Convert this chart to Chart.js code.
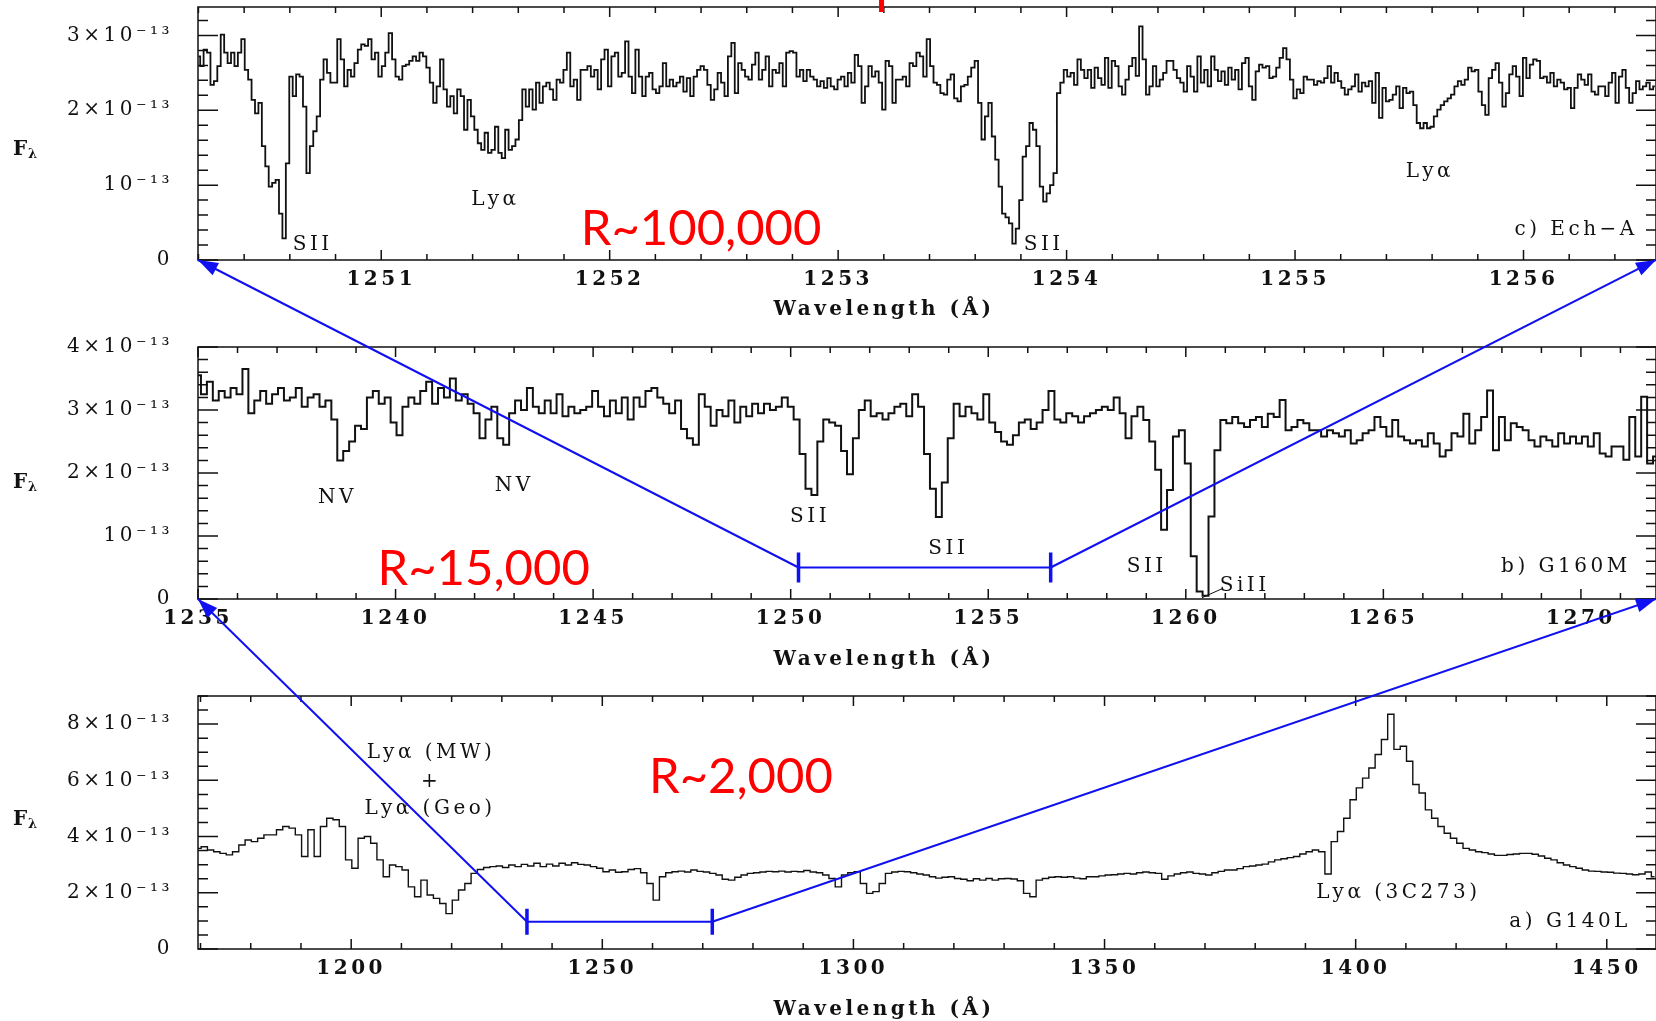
<!DOCTYPE html>
<html>
<head>
<meta charset="utf-8">
<title>STIS spectra of 3C273 at three resolutions</title>
<script src="https://cdn.jsdelivr.net/npm/chart.js@4.4.1/dist/chart.umd.min.js"></script>
<style>
  html, body { margin: 0; background: #fff; }
  #wrap { position: relative; width: 1656px; height: 1021px; overflow: hidden; }
  #wrap canvas { position: absolute; left: 0; }
  #overlay { pointer-events: none; }
</style>
</head>
<body>
<div id="wrap">
  <canvas id="panelC" width="1656" height="330" style="top:0"></canvas>
  <canvas id="panelB" width="1656" height="340" style="top:330px"></canvas>
  <canvas id="panelA" width="1656" height="351" style="top:670px"></canvas>
  <canvas id="overlay" width="1656" height="1021" style="top:0"></canvas>
</div>
<script>
// ---- data (flux in units of 1e-13, wavelength in Angstrom) ----
const ECH_RANGE = [1250.198, 1256.58];
const ECH_START = 1250.20, ECH_STEP = 0.015;
const ECH_FLUX = [
  2.72, 2.59, 2.81, 2.77, 2.34, 2.39, 2.59, 3.01, 2.77, 2.63,
  2.77, 2.59, 2.77, 2.95, 2.54, 2.41, 2.14, 1.96, 2.10, 1.52,
  1.25, 0.98, 1.03, 1.07, 0.62, 0.29, 1.29, 2.45, 2.19, 2.48,
  2.45, 2.05, 1.16, 1.52, 1.72, 1.92, 2.41, 2.68, 2.50, 2.37,
  2.37, 2.95, 2.68, 2.32, 2.54, 2.45, 2.63, 2.81, 2.88, 2.86,
  2.95, 2.68, 2.77, 2.45, 2.59, 2.77, 3.03, 2.68, 2.45, 2.41,
  2.59, 2.61, 2.66, 2.72, 2.66, 2.77, 2.72, 2.57, 2.37, 2.10,
  2.32, 2.68, 2.28, 2.05, 2.19, 1.96, 2.28, 2.19, 1.74, 2.14,
  1.92, 1.74, 1.56, 1.47, 1.70, 1.43, 1.47, 1.78, 1.43, 1.36,
  1.74, 1.47, 1.52, 1.61, 1.87, 2.28, 2.05, 2.28, 2.01, 2.37,
  2.10, 2.32, 2.37, 2.28, 2.14, 2.41, 2.37, 2.54, 2.77, 2.32,
  2.41, 2.14, 2.54, 2.54, 2.59, 2.45, 2.54, 2.28, 2.68, 2.81,
  2.32, 2.72, 2.77, 2.45, 2.50, 2.92, 2.45, 2.23, 2.81, 2.45,
  2.19, 2.45, 2.50, 2.28, 2.23, 2.32, 2.63, 2.32, 2.41, 2.32,
  2.37, 2.45, 2.25, 2.43, 2.19, 2.45, 2.54, 2.59, 2.54, 2.34,
  2.14, 2.28, 2.50, 2.37, 2.19, 2.72, 2.90, 2.23, 2.63, 2.54,
  2.45, 2.41, 2.61, 2.77, 2.41, 2.54, 2.72, 2.32, 2.54, 2.50,
  2.63, 2.32, 2.77, 2.79, 2.77, 2.45, 2.54, 2.39, 2.54, 2.45,
  2.41, 2.32, 2.39, 2.30, 2.43, 2.32, 2.28, 2.41, 2.45, 2.32,
  2.50, 2.37, 2.74, 2.59, 2.10, 2.32, 2.59, 2.45, 2.52, 2.37,
  2.01, 2.66, 2.59, 2.10, 2.41, 2.41, 2.45, 2.32, 2.63, 2.59,
  2.77, 2.72, 2.45, 2.95, 2.59, 2.37, 2.34, 2.23, 2.21, 2.41,
  2.48, 2.16, 2.12, 2.32, 2.34, 2.45, 2.57, 2.66, 2.10, 1.61,
  1.92, 2.10, 1.65, 1.34, 0.98, 0.62, 0.57, 0.49, 0.22, 0.42,
  0.80, 1.38, 1.52, 1.83, 1.74, 1.52, 0.98, 0.78, 0.89, 1.00,
  1.16, 2.23, 2.37, 2.54, 2.45, 2.50, 2.34, 2.68, 2.54, 2.43,
  2.54, 2.30, 2.57, 2.43, 2.34, 2.70, 2.30, 2.66, 2.59, 2.32,
  2.21, 2.41, 2.59, 2.70, 2.46, 3.12, 2.68, 2.21, 2.32, 2.59,
  2.32, 2.41, 2.50, 2.66, 2.66, 2.54, 2.43, 2.37, 2.25, 2.59,
  2.45, 2.25, 2.72, 2.37, 2.54, 2.32, 2.72, 2.54, 2.39, 2.52,
  2.34, 2.57, 2.41, 2.54, 2.28, 2.63, 2.70, 2.32, 2.14, 2.52,
  2.61, 2.57, 2.59, 2.43, 2.45, 2.57, 2.70, 2.83, 2.68, 2.41,
  2.16, 2.28, 2.23, 2.45, 2.41, 2.41, 2.34, 2.39, 2.37, 2.43,
  2.59, 2.37, 2.50, 2.39, 2.30, 2.21, 2.28, 2.32, 2.48, 2.25,
  2.37, 2.32, 2.39, 2.10, 2.50, 1.90, 2.30, 2.12, 2.14, 2.21,
  2.32, 2.03, 2.30, 2.23, 2.25, 2.07, 1.83, 1.76, 1.83, 1.76,
  1.78, 1.92, 2.01, 2.07, 2.12, 2.16, 2.21, 2.32, 2.39, 2.34,
  2.41, 2.57, 2.52, 2.54, 2.25, 2.07, 1.94, 2.43, 2.54, 2.63,
  2.37, 2.05, 2.23, 2.48, 2.59, 2.45, 2.19, 2.70, 2.43, 2.61,
  2.68, 2.66, 2.43, 2.45, 2.37, 2.50, 2.32, 2.41, 2.37, 2.28,
  2.30, 2.03, 2.30, 2.48, 2.41, 2.34, 2.48, 2.25, 2.21, 2.32,
  2.32, 2.19, 2.37, 2.50, 2.10, 2.45, 2.54, 2.30, 2.10, 2.23,
  2.39, 2.28, 2.32, 2.37, 2.28, 2.32
];
const ECH_XTICKS = [1251, 1252, 1253, 1254, 1255, 1256];
const ECH_YTICKS = [0, 1, 2, 3];

const G160M_RANGE = [1235, 1271.9];
const G160M_START = 1235.0, G160M_STEP = 0.15;
const G160M_FLUX = [
  3.55, 3.25, 3.45, 3.15, 3.30, 3.20, 3.35, 3.25, 3.65, 2.95,
  3.15, 3.30, 3.10, 3.25, 3.35, 3.15, 3.20, 3.35, 3.05, 3.20,
  3.25, 3.05, 3.15, 2.85, 2.20, 2.35, 2.50, 2.75, 2.70, 3.20,
  3.30, 3.10, 3.20, 2.80, 2.60, 3.05, 3.20, 3.10, 3.30, 3.45,
  3.10, 3.35, 3.20, 3.50, 3.15, 3.25, 3.10, 2.95, 2.55, 2.85,
  3.05, 2.55, 2.45, 2.95, 3.15, 3.00, 3.35, 3.05, 2.95, 3.15,
  2.95, 3.25, 2.90, 3.05, 2.95, 3.00, 3.05, 3.30,
  3.05, 2.90, 3.15, 2.95, 3.20, 2.85, 3.20, 3.05, 3.30, 3.35,
  3.20, 3.10, 2.95, 3.15, 2.70, 2.55, 2.45, 3.25, 3.05, 2.75,
  3.00, 2.90, 3.15, 2.80, 3.05, 2.90, 3.10, 2.95, 3.10, 3.00,
  3.05, 3.20, 3.05, 2.85, 2.30, 1.75, 1.65, 2.50, 2.85, 2.80,
  2.75, 2.35, 1.98, 2.55, 3.00, 3.15, 2.90, 2.95, 2.85, 2.95,
  3.05, 3.10, 2.90, 3.25, 3.05, 2.30, 1.75, 1.30, 1.85, 2.55,
  3.10, 2.90, 3.05, 2.95, 2.85, 3.25, 2.80, 2.65, 2.50, 2.45,
  2.60, 2.80, 2.85, 2.70, 2.80, 3.00, 3.30, 2.85, 2.80, 2.95,
  2.90, 2.80, 2.90, 2.95, 3.00, 3.05, 3.00, 3.20, 2.95, 2.55,
  2.90, 3.05, 2.84, 2.50, 2.05,
  1.10, 1.73, 2.58, 2.68, 2.15, 0.68, 0.12, 0.05, 1.31, 2.36,
  2.84, 2.79, 2.89, 2.79, 2.73, 2.84, 2.89, 2.73, 2.94, 2.89,
  3.16, 2.68, 2.73, 2.84, 2.79, 2.68, 2.68, 2.58, 2.68, 2.63,
  2.58, 2.68, 2.47, 2.52, 2.63, 2.68, 2.89, 2.73, 2.58, 2.84,
  2.58, 2.52, 2.47, 2.52, 2.42, 2.63, 2.47, 2.26, 2.36, 2.63,
  2.58, 2.94, 2.47, 2.68, 2.89, 3.31, 2.36, 2.89, 2.52, 2.79,
  2.73, 2.68, 2.52, 2.42, 2.58, 2.52, 2.42, 2.63, 2.47, 2.58,
  2.47, 2.58, 2.42, 2.63, 2.31, 2.26, 2.42, 2.42, 2.21, 2.89,
  2.26, 3.21, 2.15, 2.26
];
const G160M_XTICKS = [1235, 1240, 1245, 1250, 1255, 1260, 1265, 1270];
const G160M_YTICKS = [0, 1, 2, 3, 4];

const G140L_RANGE = [1169.5, 1459.8];
const G140L_START = 1169.5, G140L_STEP = 1.25;
const G140L_FLUX = [
  3.58, 3.64, 3.52, 3.46, 3.40, 3.35, 3.46, 3.70, 3.88, 3.82,
  3.94, 4.06, 4.06, 4.24, 4.36, 4.30, 4.06, 3.29, 4.24, 3.29,
  4.36, 4.65, 4.60, 4.36, 3.17, 2.87, 3.94, 4.00, 3.76, 3.17,
  2.57, 2.99, 2.93, 2.81, 2.21, 1.86, 2.45, 1.92, 1.80, 1.62,
  1.26, 1.74, 2.10, 2.33, 2.69, 2.83, 2.90, 2.93, 2.95, 2.90,
  2.99, 2.93, 3.01, 2.95, 3.05, 2.93, 3.02, 2.95, 3.05, 2.99,
  3.07, 3.01, 2.99, 2.93, 2.87,
  2.75, 2.81, 2.73, 2.75, 2.83, 2.86, 2.71, 2.33, 1.74, 2.57,
  2.71, 2.75, 2.77, 2.74, 2.81, 2.76, 2.74, 2.69, 2.63, 2.48,
  2.45, 2.55, 2.63, 2.69, 2.71, 2.74, 2.76, 2.75, 2.77, 2.74,
  2.76, 2.75, 2.79, 2.74, 2.71, 2.63, 2.51, 2.21, 2.63, 2.71,
  2.75, 2.33, 1.98, 2.04, 2.33, 2.69, 2.74, 2.76, 2.75, 2.71,
  2.67, 2.63, 2.57, 2.52, 2.55, 2.57, 2.51, 2.48, 2.43, 2.50,
  2.45, 2.51, 2.45, 2.50, 2.51, 2.49, 2.43, 1.98, 1.86, 2.45,
  2.51, 2.55, 2.57, 2.55, 2.57, 2.52, 2.50, 2.57, 2.57, 2.60,
  2.63, 2.64, 2.67, 2.69, 2.67, 2.71, 2.74, 2.71, 2.69,
  2.48, 2.60, 2.67, 2.71, 2.74, 2.69, 2.67, 2.63, 2.71, 2.76,
  2.81, 2.81, 2.86, 2.93, 2.95, 2.99, 3.02, 3.10, 3.17, 3.21,
  3.25, 3.29, 3.38, 3.46, 3.52, 3.46, 2.67, 3.82, 4.18, 4.65,
  5.31, 5.73, 6.08, 6.44, 6.92, 7.45, 8.35, 7.10, 7.21, 6.68,
  5.85, 5.55, 4.95, 4.65, 4.36, 4.12, 3.94, 3.76, 3.58, 3.52,
  3.46, 3.43, 3.38, 3.33, 3.33, 3.36, 3.38, 3.40, 3.40, 3.37,
  3.31, 3.23, 3.17, 3.07, 2.99, 2.93, 2.87, 2.81, 2.77, 2.76,
  2.74, 2.73, 2.70, 2.69, 2.67, 2.64, 2.67, 2.74, 2.57
];
const G140L_XTICKS = [1200, 1250, 1300, 1350, 1400, 1450];
const G140L_YTICKS = [0, 2, 4, 6, 8];

// where the zoomed ranges sit in the panel below (flux level of the bracket)
const BRACKET_B = 0.5;
const BRACKET_A = 0.97;

const INK = '#111';
const BLUE = '#1010f0';
const RED = '#ff0000';
const SERIF = '"DejaVu Serif", "Liberation Serif", serif';
const SPACING = '3.5px';

Chart.defaults.color = INK;
Chart.defaults.font.family = SERIF;

function fluxLabel(v) {
  if (v === 0) return '0';
  if (v === 1) return '10\u207B\u00B9\u00B3';
  return v + '\u00D710\u207B\u00B9\u00B3';
}

function toPoints(start, step, flux) {
  return flux.map((f, i) => ({ x: start + i * step, y: f }));
}

// PGPLOT-like frame: inward ticks on all sides, labels, F_lambda and axis title
const pgplot = {
  id: 'pgplot',
  beforeUpdate(chart) { chart.ctx.letterSpacing = SPACING; },
  beforeDraw(chart) { chart.ctx.letterSpacing = SPACING; },
  afterDraw(chart, args, o) {
    const { ctx, chartArea: a, scales: { x, y } } = chart;
    ctx.save();
    ctx.letterSpacing = SPACING;
    ctx.strokeStyle = INK;
    ctx.lineWidth = 1.5;
    ctx.strokeRect(a.left, a.top, a.right - a.left, a.bottom - a.top);

    const eachTick = (scale, minor, major, draw) => {
      const k0 = Math.ceil(scale.min / minor - 1e-6);
      const k1 = Math.floor(scale.max / minor + 1e-6);
      for (let k = k0; k <= k1; k++) {
        const v = k * minor;
        const big = Math.abs(v / major - Math.round(v / major)) < 1e-6;
        draw(scale.getPixelForValue(v), big);
      }
    };
    ctx.beginPath();
    eachTick(x, o.minorX, o.majorX, (px, big) => {
      const l = big ? 10 : 6;
      ctx.moveTo(px, a.bottom); ctx.lineTo(px, a.bottom - l);
      ctx.moveTo(px, a.top); ctx.lineTo(px, a.top + l);
    });
    eachTick(y, o.minorY, o.majorY, (py, big) => {
      const l = big ? 20 : 10;
      ctx.moveTo(a.left, py); ctx.lineTo(a.left + l, py);
      ctx.moveTo(a.right, py); ctx.lineTo(a.right - l, py);
    });
    ctx.stroke();

    // line annotations
    ctx.fillStyle = INK;
    ctx.textBaseline = 'middle';
    ctx.font = '20px ' + SERIF;
    o.labels.forEach(l => {
      ctx.textAlign = l.align || 'center';
      ctx.fillText(l.text, x.getPixelForValue(l.x), y.getPixelForValue(l.y));
    });
    (o.leaders || []).forEach(l => {
      ctx.lineWidth = 1;
      ctx.beginPath();
      ctx.moveTo(x.getPixelForValue(l[0]), y.getPixelForValue(l[1]));
      ctx.lineTo(x.getPixelForValue(l[2]), y.getPixelForValue(l[3]));
      ctx.stroke();
    });

    // F_lambda
    const fy = y.getPixelForValue(o.fLevel);
    ctx.textAlign = 'left';
    ctx.letterSpacing = '0px';
    ctx.font = 'bold 20px ' + SERIF;
    ctx.fillText('F', 13, fy);
    ctx.font = 'bold 13px ' + SERIF;
    ctx.fillText('\u03BB', 28, fy + 5);

    // axis title
    ctx.letterSpacing = SPACING;
    ctx.textAlign = 'center';
    ctx.font = 'bold 20px ' + SERIF;
    ctx.fillText('Wavelength (\u00C5)', 884, a.bottom + o.titleOffset);

    // resolution tag
    ctx.letterSpacing = '0px';
    ctx.fillStyle = RED;
    ctx.textBaseline = 'alphabetic';
    ctx.font = '49px Lato, "Open Sans", sans-serif';
    ctx.fillText(o.tag.text, x.getPixelForValue(o.tag.x), y.getPixelForValue(o.tag.y));
    ctx.restore();
  }
};

function makePanel(id, p) {
  return new Chart(document.getElementById(id), {
    type: 'line',
    data: {
      datasets: [{
        data: p.points,
        borderColor: INK,
        borderWidth: p.lineWidth,
        pointRadius: 0,
        stepped: 'middle',
        fill: false
      }]
    },
    options: {
      responsive: false,
      animation: false,
      devicePixelRatio: 1,
      events: [],
      layout: { padding: { top: p.padTop, right: 0, bottom: 0, left: 0 }, autoPadding: false },
      plugins: {
        legend: { display: false },
        tooltip: { enabled: false },
        pgplot: p.frame
      },
      scales: {
        x: {
          type: 'linear',
          min: p.xRange[0],
          max: p.xRange[1],
          grid: { display: false, drawTicks: false },
          border: { display: false },
          afterBuildTicks: s => { s.ticks = p.xTicks.map(v => ({ value: v })); },
          afterFit: s => {
            s.height = p.axisHeight;
            s.paddingLeft = 0; s.paddingRight = 0;
          },
          ticks: {
            padding: 8,
            maxRotation: 0,
            autoSkip: false,
            color: INK,
            font: { size: 20, weight: 'bold' },
            callback: v => String(v)
          }
        },
        y: {
          type: 'linear',
          min: 0,
          max: p.yMax,
          grid: { display: false, drawTicks: false },
          border: { display: false },
          afterBuildTicks: s => { s.ticks = p.yTicks.map(v => ({ value: v })); },
          afterFit: s => {
            s.width = 198;
            s.paddingTop = 0; s.paddingBottom = 0;
          },
          ticks: {
            padding: 25,
            color: INK,
            font: { size: 20 },
            callback: fluxLabel
          }
        }
      }
    },
    plugins: [pgplot]
  });
}

const chartC = makePanel('panelC', {
  points: toPoints(ECH_START, ECH_STEP, ECH_FLUX),
  xRange: ECH_RANGE, yMax: 3.38, xTicks: ECH_XTICKS, yTicks: ECH_YTICKS,
  padTop: 7, axisHeight: 70, lineWidth: 1.8,
  frame: {
    minorX: 0.2, majorX: 1, minorY: 0.2, majorY: 1, fLevel: 1.47, titleOffset: 50,
    tag: { text: 'R~100,000', x: 1252.40, y: 0.20 },
    labels: [
      { text: 'SII', x: 1250.70, y: 0.20 },
      { text: 'Ly\u03B1', x: 1251.50, y: 0.80 },
      { text: 'SII', x: 1253.90, y: 0.20 },
      { text: 'Ly\u03B1', x: 1255.59, y: 1.18 },
      { text: 'c) Ech\u2212A', x: 1256.50, y: 0.40, align: 'right' }
    ]
  }
});

const chartB = makePanel('panelB', {
  points: toPoints(G160M_START, G160M_STEP, G160M_FLUX),
  xRange: G160M_RANGE, yMax: 4, xTicks: G160M_XTICKS, yTicks: G160M_YTICKS,
  padTop: 17, axisHeight: 71, lineWidth: 2,
  frame: {
    minorX: 1, majorX: 5, minorY: 0.2, majorY: 1, fLevel: 1.85, titleOffset: 61,
    tag: { text: 'R~15,000', x: 1242.23, y: 0.22 },
    labels: [
      { text: 'NV', x: 1238.53, y: 1.61 },
      { text: 'NV', x: 1243.00, y: 1.80 },
      { text: 'SII', x: 1250.49, y: 1.30 },
      { text: 'SII', x: 1253.99, y: 0.79 },
      { text: 'SII', x: 1259.01, y: 0.51 },
      { text: 'SiII', x: 1261.49, y: 0.21 },
      { text: 'b) G160M', x: 1271.26, y: 0.51, align: 'right' }
    ],
    leaders: [[1260.41, 0.02, 1260.94, 0.17]]
  }
});

const chartA = makePanel('panelA', {
  points: toPoints(G140L_START, G140L_STEP, G140L_FLUX),
  xRange: G140L_RANGE, yMax: 9, xTicks: G140L_XTICKS, yTicks: G140L_YTICKS,
  padTop: 26, axisHeight: 72, lineWidth: 1.4,
  frame: {
    minorX: 10, majorX: 50, minorY: 0.5, majorY: 2, fLevel: 4.6, titleOffset: 61,
    tag: { text: 'R~2,000', x: 1277.6, y: 5.56 },
    labels: [
      { text: 'Ly\u03B1 (MW)', x: 1215.9, y: 6.99 },
      { text: '+', x: 1215.9, y: 5.95 },
      { text: 'Ly\u03B1 (Geo)', x: 1215.7, y: 4.99 },
      { text: 'Ly\u03B1 (3C273)', x: 1408.5, y: 2.0 },
      { text: 'a) G140L', x: 1454.8, y: 0.95, align: 'right' }
    ]
  }
});

// ---- blue zoom connectors drawn across the panels ----
const ov = document.getElementById('overlay').getContext('2d');

function toPage(chart, top, xv, yv) {
  return [chart.scales.x.getPixelForValue(xv), top + chart.scales.y.getPixelForValue(yv)];
}

function arrowLine(from, to) {
  ov.beginPath();
  ov.moveTo(from[0], from[1]);
  ov.lineTo(to[0], to[1]);
  ov.stroke();
  const ang = Math.atan2(to[1] - from[1], to[0] - from[0]);
  const len = 20, half = 7;
  const bx = to[0] - len * Math.cos(ang), by = to[1] - len * Math.sin(ang);
  ov.beginPath();
  ov.moveTo(to[0], to[1]);
  ov.lineTo(bx + half * Math.sin(ang), by - half * Math.cos(ang));
  ov.lineTo(bx - half * Math.sin(ang), by + half * Math.cos(ang));
  ov.closePath();
  ov.fill();
}

function bracket(l, r, h) {
  ov.beginPath();
  ov.moveTo(l[0], l[1]);
  ov.lineTo(r[0], r[1]);
  ov.stroke();
  ov.save();
  ov.lineWidth = 3.5;
  ov.beginPath();
  ov.moveTo(l[0], l[1] - h); ov.lineTo(l[0], l[1] + h);
  ov.moveTo(r[0], r[1] - h); ov.lineTo(r[0], r[1] + h);
  ov.stroke();
  ov.restore();
}

ov.strokeStyle = BLUE;
ov.fillStyle = BLUE;
ov.lineWidth = 2;

const cLeft = toPage(chartC, 0, ECH_RANGE[0], 0);
const cRight = toPage(chartC, 0, ECH_RANGE[1], 0);
const bZoomL = toPage(chartB, 330, ECH_RANGE[0], BRACKET_B);
const bZoomR = toPage(chartB, 330, ECH_RANGE[1], BRACKET_B);
arrowLine(bZoomL, cLeft);
arrowLine(bZoomR, cRight);
bracket(bZoomL, bZoomR, 15);

const bLeft = toPage(chartB, 330, G160M_RANGE[0], 0);
const bRight = toPage(chartB, 330, G160M_RANGE[1], 0);
const aZoomL = toPage(chartA, 670, G160M_RANGE[0], BRACKET_A);
const aZoomR = toPage(chartA, 670, G160M_RANGE[1], BRACKET_A);
arrowLine(aZoomL, bLeft);
arrowLine(aZoomR, bRight);
bracket(aZoomL, aZoomR, 13);

// red stroke left from a cropped caption above the top panel
const mark = toPage(chartC, 0, 1253.19, 0);
ov.fillStyle = RED;
ov.fillRect(mark[0] - 2.5, 0, 5, 12);
</script>
</body>
</html>
